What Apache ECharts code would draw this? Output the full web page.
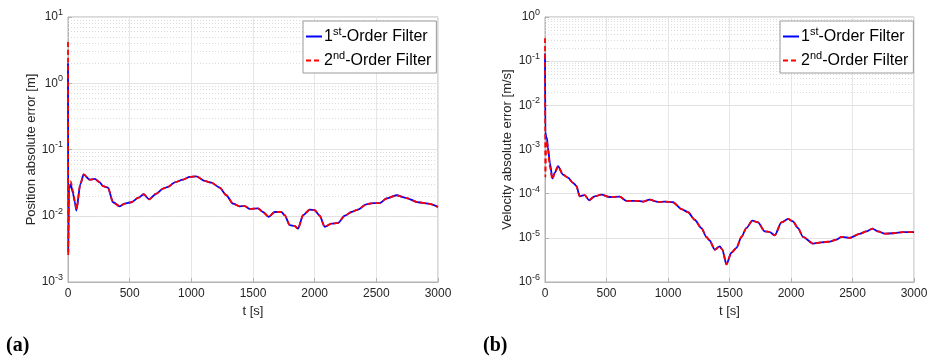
<!DOCTYPE html>
<html>
<head>
<meta charset="utf-8">
<script src="https://cdn.jsdelivr.net/npm/echarts@6/dist/echarts.min.js"></script>
<style>
  html, body { margin: 0; padding: 0; background: #fff; }
  #chart { width: 934px; height: 359px; }
</style>
</head>
<body>
<div id="chart"></div>
<script>
// Time stamps [s] and absolute position error [m]
const posT = [0, 2, 8, 22, 40, 55, 68, 100, 127, 176, 217, 257, 284, 324, 365, 419, 460, 514, 568, 614,
  657, 717, 770, 811, 865, 933, 987, 1041, 1108, 1163, 1230, 1284, 1338, 1392, 1433, 1473, 1541, 1581, 1627, 1676,
  1730, 1757, 1798, 1838, 1865, 1906, 1960, 2000, 2041, 2081, 2136, 2190, 2244, 2298, 2352, 2419, 2473, 2527, 2582, 2663,
  2744, 2838, 2919, 3000];
const posFirst = [2.0, 0.0028, 0.025, 0.030, 0.022, 0.016, 0.012, 0.030, 0.042, 0.035,
  0.036, 0.032, 0.028, 0.0266, 0.016, 0.0139, 0.0152, 0.016, 0.0186, 0.0211,
  0.0177, 0.0216, 0.0257, 0.0272, 0.032, 0.035, 0.0385, 0.0394, 0.0335, 0.0316,
  0.0266, 0.0204, 0.0152, 0.0139, 0.014, 0.0127, 0.0129, 0.0114, 0.0096, 0.0114,
  0.0114, 0.0102, 0.0072, 0.0070, 0.0064, 0.0102, 0.0124, 0.0121, 0.0100, 0.0068,
  0.0076, 0.0078, 0.0100, 0.0114, 0.0124, 0.0149, 0.0155, 0.0155, 0.0182, 0.0204,
  0.0185, 0.016, 0.0152, 0.0136];
const posSecond = [4.2, 0.0025, 0.031, 0.033, 0.024, 0.017, 0.0125, 0.030, 0.042, 0.035,
  0.036, 0.032, 0.028, 0.0266, 0.016, 0.0139, 0.0152, 0.016, 0.0186, 0.0211,
  0.0177, 0.0216, 0.0257, 0.0272, 0.032, 0.035, 0.0385, 0.0394, 0.0335, 0.0316,
  0.0266, 0.0204, 0.0152, 0.0139, 0.014, 0.0127, 0.0129, 0.0114, 0.0096, 0.0114,
  0.0114, 0.0102, 0.0072, 0.0070, 0.0064, 0.0102, 0.0124, 0.0121, 0.0100, 0.0068,
  0.0076, 0.0078, 0.0100, 0.0114, 0.0124, 0.0149, 0.0155, 0.0155, 0.0182, 0.0204,
  0.0185, 0.016, 0.0152, 0.0136];

// Time stamps [s] and absolute velocity error [m/s]
const velT = [0, 3, 10, 16, 24, 40, 60, 80, 106, 146, 187, 228, 255, 282, 323, 358, 404, 459, 526, 607,
  662, 743, 797, 851, 919, 973, 1041, 1109, 1163, 1217, 1272, 1312, 1339, 1380, 1421, 1442, 1475, 1515, 1556, 1597,
  1637, 1686, 1732, 1786, 1827, 1868, 1922, 1976, 2016, 2057, 2098, 2179, 2247, 2315, 2369, 2410, 2477, 2558, 2613, 2662,
  2707, 2762, 2829, 2911, 3000];
const velFirst = [0.15, 0.0025, 0.0019, 0.0018, 0.0011, 0.0005, 0.00022, 0.0003, 0.00042, 0.00027,
  0.00023, 0.000175, 0.00015, 0.000087, 0.000093, 0.000071, 0.000087, 0.000095, 0.0000841, 0.0000855,
  0.000069, 0.000069, 0.000066, 0.000073, 0.000065, 0.000066, 0.000064, 0.0000449, 0.000038, 0.0000257,
  0.0000166, 0.0000105, 0.0000087, 0.0000054, 0.0000064, 0.0000054, 0.0000025, 0.0000046, 0.0000059, 0.0000105,
  0.0000166, 0.0000245, 0.0000224, 0.000014, 0.0000135, 0.0000114, 0.0000223, 0.0000268, 0.0000235, 0.0000166,
  0.0000105, 0.0000074, 0.0000079, 0.0000082, 0.0000091, 0.0000105, 0.0000100, 0.0000123, 0.000014, 0.0000162,
  0.000014, 0.0000124, 0.0000127, 0.0000135, 0.0000135];
const velSecond = [0.33, 0.00024, 0.0016, 0.0015, 0.0010, 0.0004, 0.00021, 0.0003, 0.00042, 0.00027,
  0.00023, 0.000175, 0.00015, 0.000087, 0.000093, 0.000071, 0.000087, 0.000095, 0.0000841, 0.0000855,
  0.000069, 0.000069, 0.000066, 0.000073, 0.000065, 0.000066, 0.000064, 0.0000449, 0.000038, 0.0000257,
  0.0000166, 0.0000105, 0.0000087, 0.0000054, 0.0000064, 0.0000054, 0.0000025, 0.0000046, 0.0000059, 0.0000105,
  0.0000166, 0.0000245, 0.0000224, 0.000014, 0.0000135, 0.0000114, 0.0000223, 0.0000268, 0.0000235, 0.0000166,
  0.0000105, 0.0000074, 0.0000079, 0.0000082, 0.0000091, 0.0000105, 0.0000100, 0.0000123, 0.000014, 0.0000162,
  0.000014, 0.0000124, 0.0000127, 0.0000135, 0.0000135];

// Axis ranges (decade exponents) and x ticks
const xTicks = [0, 500, 1000, 1500, 2000, 2500, 3000];
const posDecades = [-3, 1];
const velDecades = [-6, 0];

const FONT = 'Liberation Sans, Arial, Helvetica, sans-serif';
const TXT = '#262626';

function pairs(t, v) { return t.map((x, i) => [x, v[i]]); }

// dotted lines at 2..9 x 10^k inside every decade
function minorLines(dec) {
  const out = [];
  for (let k = dec[0]; k < dec[1]; k++) {
    for (let m = 2; m <= 9; m++) out.push({ yAxis: m * Math.pow(10, k) });
  }
  return out;
}

function powLabel(v) {
  const e = Math.round(Math.log10(v));
  return '10{sup|' + (e < 0 ? '-' + (-e) : e) + '}';
}

const legendNames = {
  p1: '1{sup|st}-Order Filter', p2: '2{sup|nd}-Order Filter',
  v1: '1{sup|st}-Order Filter', v2: '2{sup|nd}-Order Filter'
};

function xAxisCfg(idx) {
  return {
    gridIndex: idx, type: 'value', min: xTicks[0], max: xTicks[xTicks.length - 1], interval: xTicks[1] - xTicks[0],
    name: 't [s]', nameLocation: 'middle', nameGap: 22,
    nameTextStyle: { fontFamily: FONT, fontSize: 13, color: TXT },
    axisLine: { show: true, lineStyle: { color: '#b3b3b3', width: 1 } },
    axisTick: { show: true, inside: true, length: 4, lineStyle: { color: '#b3b3b3' } },
    axisLabel: { fontFamily: FONT, fontSize: 12, color: TXT, margin: 6, formatter: v => String(v) },
    splitLine: { show: true, lineStyle: { color: '#e6e6e6', width: 1 } }
  };
}

function yAxisCfg(idx, dec, label, gap) {
  return {
    gridIndex: idx, type: 'log', logBase: 10,
    min: Math.pow(10, dec[0]), max: Math.pow(10, dec[1]), interval: 1,
    name: label, nameLocation: 'middle', nameGap: gap,
    nameTextStyle: { fontFamily: FONT, fontSize: 13, color: TXT },
    axisLine: { show: true, lineStyle: { color: '#b3b3b3', width: 1 } },
    axisTick: { show: true, inside: true, length: 4, lineStyle: { color: '#b3b3b3' } },
    axisLabel: {
      fontFamily: FONT, fontSize: 12, color: TXT, margin: 5,
      formatter: powLabel,
      rich: { sup: { fontFamily: FONT, fontSize: 9, color: TXT, verticalAlign: 'bottom', padding: [0, 0, 9, 0] } }
    },
    splitLine: { show: true, lineStyle: { color: '#e3e3e3', width: 1 } }
  };
}

function legendCfg(left, names) {
  return {
    left: left, top: 21, orient: 'vertical', z: 20,
    data: names,
    backgroundColor: '#fff', borderColor: '#9a9a9a', borderWidth: 1, borderRadius: 0,
    padding: [5, 5, 2, 2], itemGap: 3, itemWidth: 16, itemHeight: 10,
    itemStyle: { opacity: 0 },
    formatter: n => legendNames[n],
    textStyle: {
      fontFamily: FONT, fontSize: 16, lineHeight: 21, color: '#000', padding: [0, 0, 0, -3],
      rich: {
        sup: { fontFamily: FONT, fontSize: 11, lineHeight: 11, color: '#000', verticalAlign: 'top' }
      }
    }
  };
}

function lineSeries(name, xi, data, color, dashed, dec) {
  const s = {
    name: name, type: 'line', xAxisIndex: xi, yAxisIndex: xi,
    data: data, symbol: 'none', showSymbol: false,
    smooth: 0.25, smoothMonotone: 'x',
    lineStyle: { color: color, width: 1.8, type: dashed ? [5, 3] : 'solid' },
    itemStyle: { color: color },
    z: dashed ? 4 : 3, animation: false
  };
  if (dec) {
    s.markLine = {
      silent: true, symbol: 'none', label: { show: false }, animation: false, z: 1,
      lineStyle: { color: '#dcdcdc', type: [1, 2], width: 1 },
      data: minorLines(dec)
    };
  }
  return s;
}

const chart = echarts.init(document.getElementById('chart'), null, { renderer: 'canvas' });
chart.setOption({
  animation: false,
  backgroundColor: '#fff',
  grid: [
    { left: 68, top: 17, width: 370, height: 265, show: true, borderColor: '#b3b3b3', borderWidth: 1, backgroundColor: 'transparent' },
    { left: 545, top: 17, width: 369, height: 265, show: true, borderColor: '#b3b3b3', borderWidth: 1, backgroundColor: 'transparent' }
  ],
  xAxis: [xAxisCfg(0), xAxisCfg(1)],
  yAxis: [
    yAxisCfg(0, posDecades, 'Position absolute error [m]', 30),
    yAxisCfg(1, velDecades, 'Velocity absolute error [m/s]', 31)
  ],
  legend: [legendCfg(303, ['p1', 'p2']), legendCfg(780, ['v1', 'v2'])],
  series: [
    lineSeries('p1', 0, pairs(posT, posFirst), '#0000ff', false, posDecades),
    lineSeries('p2', 0, pairs(posT, posSecond), '#ff0000', true, null),
    lineSeries('v1', 1, pairs(velT, velFirst), '#0000ff', false, velDecades),
    lineSeries('v2', 1, pairs(velT, velSecond), '#ff0000', true, null)
  ],
  graphic: [
    { type: 'text', left: 6, top: 336, style: { text: '(a)', font: 'bold 20px "Liberation Serif", "Times New Roman", serif', fill: '#000' } },
    { type: 'text', left: 483, top: 336, style: { text: '(b)', font: 'bold 20px "Liberation Serif", "Times New Roman", serif', fill: '#000' } }
  ]
});
</script>
</body>
</html>
